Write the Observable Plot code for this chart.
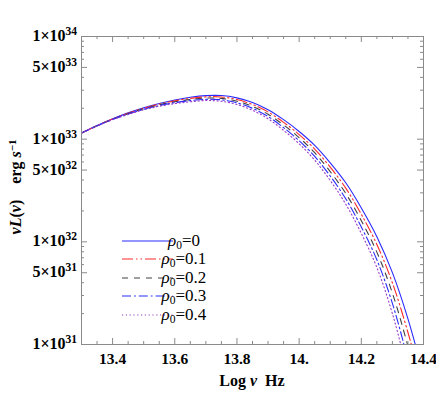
<!DOCTYPE html>
<html><head><meta charset="utf-8">
<script src="https://cdn.jsdelivr.net/npm/d3@7"></script>
<script src="https://cdn.jsdelivr.net/npm/@observablehq/plot@0.6"></script>
<style>
body{margin:0;background:#fff}
#chart{position:relative;width:436px;height:394px}
</style>
</head><body><div id="chart"></div>
<script>
// log10 of frequency (Hz)
const logNu = [13.30,13.35,13.40,13.45,13.50,13.55,13.60,13.65,13.70,13.75,13.80,13.85,13.90,13.95,14.00,14.05,14.10,14.15,14.20,14.25,14.30,14.35,14.40];
// log10 of nu L(nu) (erg/s) for each rho0
const logL_rho0_00 = [33.060,33.132,33.198,33.256,33.306,33.348,33.382,33.408,33.424,33.425,33.402,33.357,33.287,33.190,33.075,32.940,32.770,32.575,32.330,32.050,31.700,31.250,30.700];
const logL_rho0_01 = [33.060,33.131,33.196,33.252,33.301,33.341,33.373,33.397,33.412,33.411,33.386,33.338,33.265,33.164,33.045,32.904,32.727,32.523,32.268,31.975,31.600,31.117,30.550];
const logL_rho0_02 = [33.060,33.130,33.194,33.248,33.296,33.334,33.364,33.386,33.400,33.397,33.370,33.319,33.243,33.138,33.015,32.868,32.684,32.471,32.206,31.900,31.500,30.984,30.400];
const logL_rho0_03 = [33.060,33.129,33.192,33.244,33.291,33.327,33.355,33.375,33.388,33.383,33.354,33.300,33.221,33.112,32.985,32.832,32.641,32.419,32.144,31.825,31.400,30.851,30.250];
const logL_rho0_04 = [33.060,33.128,33.190,33.240,33.286,33.320,33.346,33.364,33.376,33.369,33.338,33.281,33.199,33.086,32.955,32.796,32.598,32.367,32.082,31.750,31.300,30.718,30.100];
const rho0Values = ["0","0.1","0.2","0.3","0.4"];

const xTickValues = [13.4,13.6,13.8,14.0,14.2,14.4];
const xTickLabels = ["13.4","13.6","13.8","14.","14.2","14.4"];
const yTickValues = [1e31,5e31,1e32,5e32,1e33,5e33,1e34];
const yTickMantissa = ["1","5","1","5","1","5","1"];
const yTickExponent = ["31","31","32","32","33","33","34"];

// styles (not data)
const styles = [
  {stroke:"#2a2aff", dash:null, width:1.1},
  {stroke:"#ff2a2a", dash:"11,3,1.5,3,1.5,3", width:1.1},
  {stroke:"#404040", dash:"6,6", width:1.1},
  {stroke:"#2a2aff", dash:"9,3,1.8,3", width:1.1},
  {stroke:"#9a3ac8", dash:"1.2,2.6", width:1.1}
];
const serif = "'Liberation Serif', 'Times New Roman', serif";

const allSeries = [logL_rho0_00, logL_rho0_01, logL_rho0_02, logL_rho0_03, logL_rho0_04];
const tables = allSeries.map(arr => arr.map((v,i) => ({x: logNu[i], y: Math.pow(10, v)})));

const W = 436, H = 394, mL = 81, mR = 13, mT = 36, mB = 50;
const pW = W - mL - mR, pH = H - mT - mB;
const frameColor = "#8a8a8a";

const xMinor = d3.range(0, 23).map(i => +(13.3 + i*0.05).toFixed(2)).filter(v => !xTickValues.some(t => Math.abs(t - v) < 1e-6));
const yMinor = [];
[31,32,33].forEach(e => [2,3,4,6,7,8,9].forEach(m => yMinor.push(m*Math.pow(10,e))));
const yMajor = yTickValues;

const marks = [];
tables.forEach((t, k) => {
  const s = styles[k];
  marks.push(Plot.line(t, {x:"x", y:"y", stroke:s.stroke, strokeWidth:s.width, strokeDasharray:s.dash, curve:"catmull-rom", clip:true}));
});
const tk = {stroke: frameColor, strokeWidth: 1};
marks.push(Plot.tickX(xMinor, {x: d=>d, insetTop: pH-3, ...tk}));
marks.push(Plot.tickX(xTickValues, {x: d=>d, insetTop: pH-6, ...tk}));
marks.push(Plot.tickX(xMinor, {x: d=>d, insetBottom: pH-3, ...tk}));
marks.push(Plot.tickX(xTickValues, {x: d=>d, insetBottom: pH-6, ...tk}));
marks.push(Plot.tickY(yMinor, {y: d=>d, insetRight: pW-3, ...tk}));
marks.push(Plot.tickY(yMajor, {y: d=>d, insetRight: pW-6, ...tk}));
marks.push(Plot.tickY(yMinor, {y: d=>d, insetLeft: pW-3, ...tk}));
marks.push(Plot.tickY(yMajor, {y: d=>d, insetLeft: pW-6, ...tk}));
marks.push(Plot.frame({stroke: frameColor, strokeWidth: 1}));
marks.push(Plot.axisX({ticks: xTickValues, tickSize: 0, tickPadding: 8, fontSize: 15.5, fontWeight: "bold", tickFormat: d => xTickLabels[xTickValues.findIndex(t => Math.abs(t-d)<1e-9)], label: null}));

const plot = Plot.plot({
  width: W, height: H,
  marginLeft: mL, marginRight: mR, marginTop: mT, marginBottom: mB,
  x: {domain: [13.3, 14.4]},
  y: {type: "log", domain: [1e31, 1e34], axis: null},
  style: {fontFamily: serif, fontSize: "15px", color: "#000", background: "#fff"},
  marks
});
document.getElementById("chart").appendChild(plot);

const svg = d3.select(plot);
const yScale = plot.scale("y");
// y tick labels with superscripts
const yl = svg.append("g");
yTickValues.forEach((v, i) => {
  const t = yl.append("text").attr("x", mL - 4).attr("y", yScale.apply(v) + 5)
    .attr("text-anchor","end").attr("font-family", serif).attr("font-size","16px").attr("font-weight","bold");
  t.append("tspan").text(yTickMantissa[i] + "×10");
  t.append("tspan").attr("dy","-6").attr("font-size","11.5px").text(yTickExponent[i]);
});

// axis titles
const xt = svg.append("text").attr("x", 252).attr("y", 386).attr("text-anchor","middle")
  .attr("font-family", serif).attr("font-size","16px").attr("font-weight","bold");
xt.append("tspan").text("Log ");
xt.append("tspan").attr("font-style","italic").text("ν");
xt.append("tspan").text("\u00a0 Hz");

const yt = svg.append("text").attr("transform","translate(21,187) rotate(-90)").attr("text-anchor","middle")
  .attr("font-family", serif).attr("font-size","16px").attr("font-weight","bold");
yt.append("tspan").attr("font-style","italic").text("ν");
yt.append("tspan").attr("font-style","italic").text("L");
yt.append("tspan").text("(");
yt.append("tspan").attr("font-style","italic").text("ν");
yt.append("tspan").text(")\u00a0\u00a0\u00a0 erg ");
yt.append("tspan").attr("font-style","italic").text("s");
yt.append("tspan").attr("dy","-0.5em").attr("font-size","11px").text("−1");

// legend
const legRowY = [241, 259, 278, 296, 315];
const leg = svg.append("g");
styles.forEach((s, k) => {
  const y = legRowY[k];
  leg.append("line").attr("x1",122).attr("x2",173).attr("y1",y).attr("y2",y)
    .attr("stroke", s.stroke).attr("stroke-width", s.width).attr("stroke-dasharray", s.dash);
  const t = leg.append("text").attr("x",184).attr("y",y+5)
    .attr("font-family", serif).attr("font-size","17px").attr("font-weight","normal");
  t.append("tspan").attr("font-style","italic").text("ρ");
  t.append("tspan").attr("dy","3").attr("font-size","11.5px").text("0");
  t.append("tspan").attr("dy","-3").text("=" + rho0Values[k]);
});
</script>
</body></html>
